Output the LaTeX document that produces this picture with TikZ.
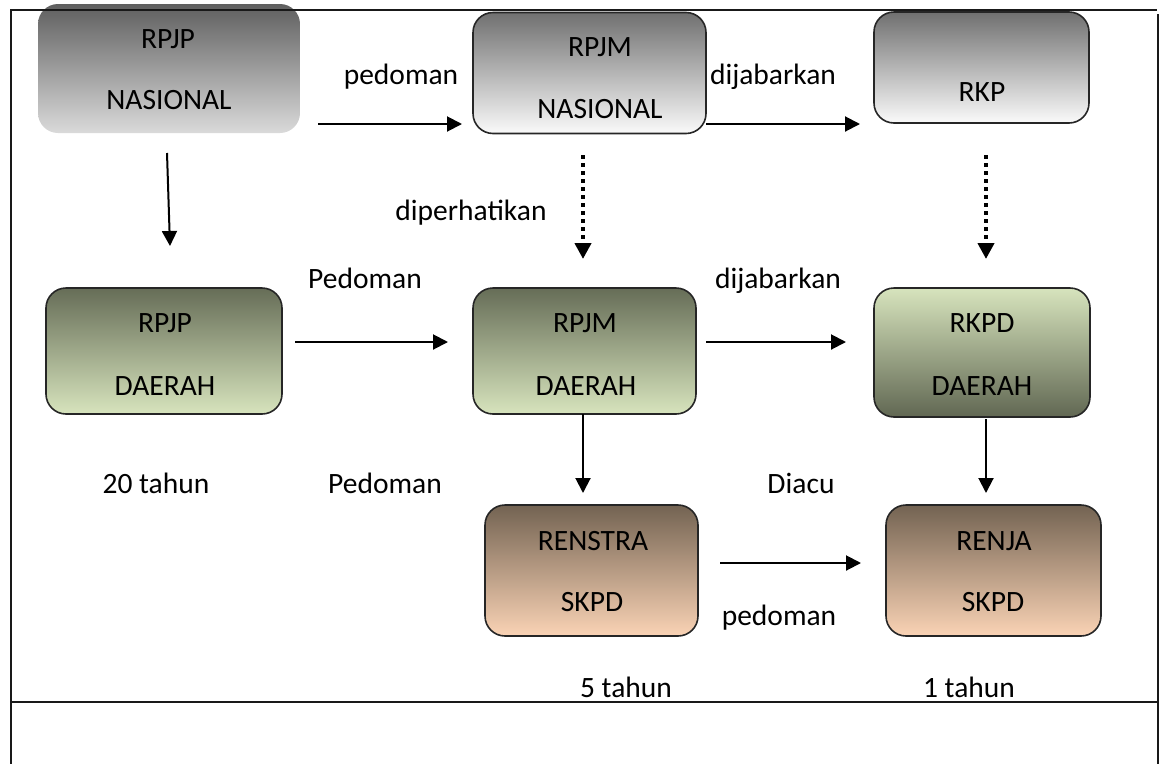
\documentclass[tikz,border=0pt]{standalone}
\usepackage{fontspec}
\setmainfont{Carlito}
\usetikzlibrary{arrows.meta}
\definecolor{gtop}{HTML}{5F5F5F}
\definecolor{gbot}{HTML}{DADADA}
\definecolor{wtop}{HTML}{707070}
\definecolor{wbot}{HTML}{FAFAFA}
\definecolor{otop}{HTML}{666D57}
\definecolor{obot}{HTML}{D7E4BD}
\definecolor{btop}{HTML}{736352}
\definecolor{bbot}{HTML}{FAD3B5}
\begin{document}
\begin{tikzpicture}[x=1pt,y=-1pt,
  boxbase/.style={rounded corners=20pt, inner sep=0pt, anchor=center},
  framed/.style={boxbase, draw=black!85, line width=1.6pt},
  graybox/.style={boxbase, top color=gtop, bottom color=gbot},
  whitebox/.style={framed, top color=wtop, bottom color=wbot},
  olivebox/.style={framed, top color=otop, bottom color=obot},
  olivebox2/.style={framed, top color=obot, bottom color=otop!95!black},
  brownbox/.style={framed, top color=btop, bottom color=bbot},
  txt/.style={anchor=base, inner sep=0pt, font=\fontsize{29.5}{35}\selectfont},
  arr/.style={line width=2pt, -{Triangle[length=15pt,width=15pt]}},
  dotarr/.style={line width=4pt, dash pattern=on 4pt off 4pt, -{Triangle[length=16pt,width=16pt]}},
  frameline/.style={line width=2pt, draw=black!90}
]
\useasboundingbox (0,0) rectangle (1160,764);

% boxes
\node[graybox, minimum width=262pt, minimum height=129pt] (rpjpn) at (169,68.5) {};
\node[whitebox, minimum width=233pt, minimum height=121pt] (rpjmn) at (589.5,73) {};
\node[whitebox, minimum width=215pt, minimum height=111pt] (rkp) at (981.5,67.5) {};
\node[olivebox, minimum width=236pt, minimum height=126pt] (rpjpd) at (164,351) {};
\node[olivebox, minimum width=223pt, minimum height=126pt] (rpjmd) at (584.5,351) {};
\node[olivebox2, minimum width=216pt, minimum height=129pt] (rkpd) at (982,352.5) {};
\node[brownbox, minimum width=213pt, minimum height=131pt] (renstra) at (591.5,570.5) {};
\node[brownbox, minimum width=215pt, minimum height=131pt] (renja) at (993.5,570.5) {};

% box texts
\node[txt] (t1a) at (168,48) {RPJP};
\node[txt] (t1b) at (169,109) {NASIONAL};
\node[txt] (t2a) at (600,56) {RPJM};
\node[txt] (t2b) at (600,118) {NASIONAL};
\node[txt] (t3a) at (982,101) {RKP};
\node[txt] (t4a) at (165,332) {RPJP};
\node[txt] (t4b) at (165,395) {DAERAH};
\node[txt] (t5a) at (585,332) {RPJM};
\node[txt] (t5b) at (586,395) {DAERAH};
\node[txt] (t6a) at (982,332) {RKPD};
\node[txt] (t6b) at (982,395) {DAERAH};
\node[txt] (t7a) at (593,550) {RENSTRA};
\node[txt] (t7b) at (592,611) {SKPD};
\node[txt] (t8a) at (994,550) {RENJA};
\node[txt] (t8b) at (993,611) {SKPD};

% free labels
\node[txt] (l1) at (401,84) {pedoman};
\node[txt] (l2) at (773,84) {dijabarkan};
\node[txt] (l3) at (471,220) {diperhatikan};
\node[txt] (l4) at (365,288) {Pedoman};
\node[txt] (l5) at (778,288) {dijabarkan};
\node[txt] (l6) at (156,493) {20 tahun};
\node[txt] (l7) at (385,493) {Pedoman};
\node[txt] (l8) at (801,493) {Diacu};
\node[txt] (l9) at (779,625) {pedoman};
\node[txt] (l10) at (626,697) {5 tahun};
\node[txt] (l11) at (969,697) {1 tahun};

% connector end points
\coordinate (a1s) at (318,124);  \coordinate (a1e) at (462,124);
\coordinate (a2s) at (706,124);  \coordinate (a2e) at (860,124);
\coordinate (a3s) at (167,153);  \coordinate (a3e) at (170,246);
\coordinate (a4s) at (583,155);  \coordinate (a4e) at (583,259);
\coordinate (a5s) at (986,155);  \coordinate (a5e) at (986,259);
\coordinate (a6s) at (295,342);  \coordinate (a6e) at (448,342);
\coordinate (a7s) at (706,342);  \coordinate (a7e) at (846,342);
\coordinate (a8s) at (583,414);  \coordinate (a8e) at (583,493);
\coordinate (a9s) at (986,419);  \coordinate (a9e) at (986,493);
\coordinate (a10s) at (720,563); \coordinate (a10e) at (861,563);

\draw[arr] (a1s) -- (a1e);
\draw[arr] (a2s) -- (a2e);
\draw[arr] (a3s) -- (a3e);
\draw[dotarr] (a4s) -- (a4e);
\draw[dotarr] (a5s) -- (a5e);
\draw[arr] (a6s) -- (a6e);
\draw[arr] (a7s) -- (a7e);
\draw[arr] (a8s) -- (a8e);
\draw[arr] (a9s) -- (a9e);
\draw[arr] (a10s) -- (a10e);

% frame lines
\coordinate (f1) at (10,10);
\coordinate (f2) at (1157,10);
\coordinate (f0) at (11,10);
\coordinate (f3) at (11,764);
\coordinate (f4) at (1158,14);
\coordinate (f5) at (1158,764);
\coordinate (f6) at (10,702);
\coordinate (f7) at (1158,702);
\draw[frameline] (f1) -- (f2);
\draw[frameline] (f0) -- (f3);
\draw[frameline] (f4) -- (f5);
\draw[frameline] (f6) -- (f7);
\end{tikzpicture}
\end{document}
